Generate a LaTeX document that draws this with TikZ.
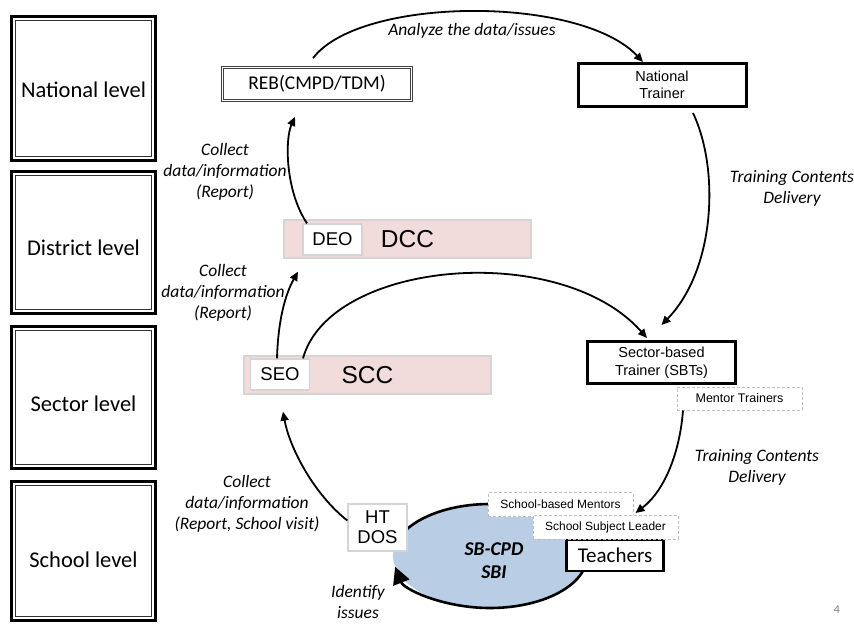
\documentclass[tikz,border=0pt]{standalone}
\usepackage{fontspec}
\setmainfont{Carlito}
\newfontfamily\arialfont{Liberation Sans}
\usetikzlibrary{arrows.meta,shapes.geometric}
\definecolor{pinkfill}{HTML}{F2DCDB}
\definecolor{cpdblue}{HTML}{B9CDE5}
\definecolor{lightframe}{HTML}{D4D4D4}
\definecolor{dashgray}{HTML}{BFBFBF}
\newcommand{\fs}[2]{\fontsize{#1}{#2}\selectfont}

\begin{document}
\begin{tikzpicture}[x=1pt,y=-1pt,
  levelbox/.style={draw,line width=2.6pt,minimum width=144pt,inner sep=0pt,
    font=\fs{22.5}{27},text depth=0pt,text height=#1,
    path picture={\draw[line width=0.9pt,black!80]
      ([shift={(4pt,4pt)}]path picture bounding box.south west) rectangle
      ([shift={(-4pt,-4pt)}]path picture bounding box.north east);}},
  levelbox/.default=16pt,
  dblbox/.style={draw=black!75,double=white,double distance=1.6pt,line width=0.7pt,
    minimum width=189pt,minimum height=33pt,inner sep=0pt,font=\fs{19.5}{23}},
  trainerbox/.style={draw,line width=3pt,fill=white,align=center,inner sep=0pt,
    font=\arialfont\fs{14.5}{17.5}},
  pinkbar/.style={fill=pinkfill,draw=lightframe,line width=1.5pt,minimum width=247pt,
    minimum height=38pt,inner sep=0pt,font=\arialfont\fs{24.5}{29}},
  officebox/.style={fill=white,draw=lightframe,line width=1.3pt,minimum width=59pt,
    minimum height=31pt,inner sep=0pt,font=\arialfont\fs{18.5}{22}},
  dashbox/.style={fill=white,draw=dashgray,dash pattern=on 3pt off 2pt,line width=1pt,
    inner sep=0pt,font=\arialfont\fs{12}{14}},
  note/.style={font=\itshape\fs{17.5}{21},align=center,inner sep=0pt},
  flow/.style={line width=1.8pt,-{Triangle[length=9pt,width=8pt]}}]

\useasboundingbox (0,0) rectangle (854,625);

\node[levelbox=18pt,minimum height=144pt] (natlevel) at (83.5,88.5) {National level};
\node[levelbox=26pt,minimum height=142pt] (distlevel) at (83.5,242.5) {District level};
\node[levelbox=28pt,minimum height=142pt] (seclevel) at (83.5,397.5) {Sector level};
\node[levelbox=32pt,minimum height=139pt] (schlevel) at (83.5,551) {School level};

\node[dblbox] (reb) at (317,84) {REB(CMPD/TDM)};
\node[trainerbox,minimum width=168pt,minimum height=43pt] (nt) at (662,85) {National\\Trainer};

\node[pinkbar] (dcc) at (407.5,239) {DCC};
\node[officebox] (deo) at (332.5,239.5) {DEO};
\node[pinkbar] (scc) at (367.5,375) {SCC};
\node[officebox] (seo) at (280,374.5) {SEO};

\node[trainerbox,minimum width=148pt,minimum height=42pt] (sbt) at (661.5,362.5) {Sector-based\\Trainer (SBTs)};
\node[dashbox,minimum width=125pt,minimum height=23pt,font=\arialfont\fs{12.5}{14}] (mentor) at (739.5,398.5) {Mentor Trainers};

\node[ellipse,fill=cpdblue,minimum width=194pt,minimum height=104pt,inner sep=0pt] (cpd) at (490,556) {};
\draw[line width=2.6pt,-{Triangle[length=17pt,width=17pt]}]
  ([shift={(185:97 and 52)}]cpd.center) arc[start angle=185,end angle=528,x radius=97,y radius=52];
\node[font=\bfseries\itshape\fs{19.5}{23},align=center] (cpdtext) at (494,561) {SB-CPD\\SBI};

\node[officebox,minimum height=47pt,align=center,font=\arialfont\fs{18.5}{20}] (htdos) at (377.5,527.5) {HT\\DOS};
\node[draw,line width=2.8pt,fill=white,minimum width=97pt,minimum height=31pt,inner sep=0pt,
  font=\fs{21}{25}] (teachers) at (615,555.5) {Teachers};
\node[dashbox,minimum width=145pt,minimum height=24pt] (sbm) at (560.5,504.5) {School-based Mentors};
\node[dashbox,minimum width=145pt,minimum height=24pt] (ssl) at (605.5,527) {School Subject Leader};

\node[note] (analyze) at (472,31) {Analyze the data/issues};
\node[note] (collectdist) at (225,172) {Collect\\data/information\\(Report)};
\node[note] (collectsec) at (223,293) {Collect\\data/information\\(Report)};
\node[note] (collectsch) at (247,504) {Collect\\data/information\\(Report, School visit)};
\node[note] (identify) at (358,602) {Identify\\issues};
\node[note] (deliverynat) at (792,188) {Training Contents\\Delivery};
\node[note] (deliverysec) at (757,467) {Training Contents\\Delivery};
\node[font=\fs{12}{14},text=gray] (pagenum) at (837,610) {4};

\draw[flow] ([xshift=-4pt,yshift=9pt]reb.north) .. controls +(47,-62) and +(-63,-67) .. ([xshift=-19pt]nt.north);
\draw[flow] ([xshift=31pt,yshift=-5pt]nt.south) .. controls +(27,57) and +(53.5,-55) .. ([yshift=15pt]sbt.north);
\draw[flow] ([xshift=23pt]seo.north) .. controls +(27,-98) and +(-87,-98) .. ([xshift=-14.5pt,yshift=2pt]sbt.north);
\draw[flow] ([xshift=-25.5pt]deo.north) .. controls +(-22,-33) and +(-10,22) .. ([xshift=-22pt,yshift=-16pt]reb.south);
\draw[flow] ([xshift=-3pt]seo.north) .. controls +(1,-37) and +(-13,23) .. ([xshift=-34.5pt,yshift=-16pt]deo.south);
\draw[flow] ([yshift=7pt]htdos.west) .. controls +(-32,-25) and +(7,38) .. ([xshift=3pt,yshift=-21pt]seo.south);
\draw[flow] ([xshift=-56.5pt]mentor.south) .. controls +(-3,40) and +(30,-23) .. ([xshift=2pt,yshift=4pt]sbm.south east);
\end{tikzpicture}
\end{document}
